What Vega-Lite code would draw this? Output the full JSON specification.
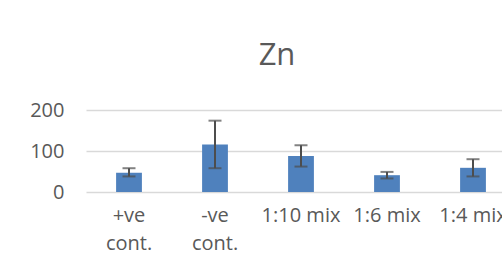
{
  "$schema": "https://vega.github.io/schema/vega-lite/v6.json",
  "autosize": "none",
  "width": 416,
  "height": 82,
  "padding": {"left": 86, "top": 110, "right": 0, "bottom": 85},
  "background": "white",
  "title": {
    "text": "Zn",
    "fontSize": 31,
    "font": "Open Sans",
    "fontWeight": "normal",
    "color": "#595959",
    "anchor": "middle",
    "dx": -17,
    "offset": 28
  },
  "data": {
    "values": [
      {"cat": "+ve cont.", "value": 47, "lo": 38, "hi": 58},
      {"cat": "-ve cont.", "value": 116, "lo": 58, "hi": 174},
      {"cat": "1:10 mix", "value": 88, "lo": 62, "hi": 114},
      {"cat": "1:6 mix", "value": 41, "lo": 33, "hi": 49},
      {"cat": "1:4 mix", "value": 59, "lo": 38, "hi": 80}
    ]
  },
  "encoding": {
    "x": {
      "field": "cat",
      "type": "nominal",
      "sort": null,
      "scale": {"range": [0, 430], "paddingInner": 0.7, "paddingOuter": 0.35},
      "axis": {
        "title": null,
        "domain": false,
        "ticks": false,
        "labelAngle": 0,
        "labelFont": "Open Sans",
        "labelFontSize": 20,
        "labelColor": "#595959",
        "labelPadding": 13,
        "labelLineHeight": 28,
        "labelOverlap": false,
        "labelBound": false,
        "labelExpr": "test(/cont/, datum.label) ? split(datum.label, ' ') : datum.label"
      }
    }
  },
  "layer": [
    {
      "mark": {"type": "bar", "color": "#4F81BD"},
      "encoding": {
        "y": {
          "field": "value",
          "type": "quantitative",
          "scale": {"domain": [0, 200], "nice": false},
          "axis": {
            "title": null,
            "values": [0, 100, 200],
            "domain": false,
            "ticks": false,
            "grid": true,
            "gridColor": "#D9D9D9",
            "gridWidth": 1.5,
            "labelFont": "Open Sans",
            "labelFontSize": 20,
            "labelColor": "#595959",
            "labelPadding": 22
          }
        }
      }
    },
    {
      "mark": {"type": "rule", "color": "#4D4D4D", "strokeWidth": 2},
      "encoding": {
        "y": {"field": "lo", "type": "quantitative"},
        "y2": {"field": "hi"}
      }
    },
    {
      "mark": {"type": "tick", "color": "#4D4D4D", "thickness": 2, "size": 13},
      "encoding": {"y": {"field": "lo", "type": "quantitative"}}
    },
    {
      "mark": {"type": "tick", "color": "#4D4D4D", "thickness": 2, "size": 13},
      "encoding": {"y": {"field": "hi", "type": "quantitative"}}
    }
  ],
  "config": {"view": {"stroke": null}}
}
